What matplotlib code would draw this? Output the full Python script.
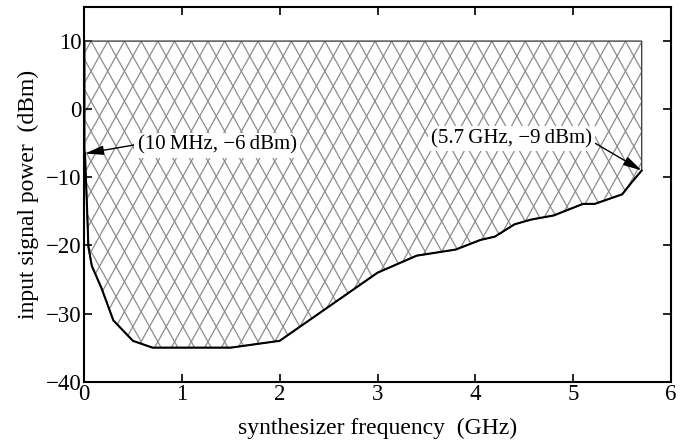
import numpy as np
import matplotlib
matplotlib.use('Agg')
import matplotlib.pyplot as plt
from matplotlib.patches import Polygon

plt.rcParams['font.family'] = ['Liberation Serif', 'DejaVu Serif']

# lower limit of the usable input power vs. synthesizer frequency
freq = [0.01, 0.03, 0.045, 0.08, 0.18, 0.3, 0.5, 0.7, 1.0, 1.5, 2.0, 2.5, 3.0,
        3.4, 3.8, 4.05, 4.2, 4.4, 4.57, 4.8, 5.1, 5.22, 5.5, 5.6, 5.7]
power = [-6.5, -14, -20.2, -23, -26.3, -31, -34, -35, -35, -35, -34, -29, -24,
         -21.5, -20.6, -19.2, -18.7, -16.9, -16.2, -15.6, -13.9, -13.9, -12.5, -10.7, -9]
upper = 10

xticks = [0, 1, 2, 3, 4, 5, 6]
yticks = [-40, -30, -20, -10, 0, 10]

notes = [('(10\u2009MHz, \u22126\u2009dBm)', (0.01, -6.5), (1.36, -5.3), (0, 0.55)),
         ('(5.7\u2009GHz, \u22129\u2009dBm)', (5.7, -9), (4.37, -4.3), (1, 0.35))]

fig = plt.figure(figsize=(6.85, 4.4), dpi=100)
ax = fig.add_axes([0.1226, 0.1325, 0.857, 0.8515])
ax.set_xlim(0, 6)
ax.set_ylim(-40, 15)

# region outline
verts = [(freq[0], upper)] + list(zip(freq, power)) + [(freq[-1], upper)]
region = Polygon(verts, closed=True, facecolor='none', edgecolor='#444444', lw=1.0, zorder=2)
ax.add_patch(region)

# elongated cross hatch, clipped to the region
px_x = ax.bbox.width / 6.0      # pixels per GHz
px_y = ax.bbox.height / 55.0    # pixels per dBm
d = 16.7 / px_x                 # horizontal spacing of hatch lines (GHz)
k = 1.8 * px_x / px_y           # slope in data units
for sgn in (1, -1):
    for c in np.arange(-3, 9, d):
        xs = np.array([-1.0, 7.0])
        ys = upper + sgn * k * (xs - c)
        ln, = ax.plot(xs, ys, color='#8c8c8c', lw=0.9, zorder=1)
        ln.set_clip_path(region)

ax.plot(freq, power, color='black', lw=1.5, zorder=3)

for txt, xy, xyt, rp in notes:
    ax.annotate(txt, xy=xy, xytext=xyt, ha='center', va='center', fontsize=15,
                bbox=dict(boxstyle='square,pad=0.15', fc='white', ec='none'),
                arrowprops=dict(arrowstyle='-|>,head_length=0.8,head_width=0.2',
                                color='black', lw=1.0, mutation_scale=14,
                                shrinkA=0, shrinkB=0, relpos=rp),
                zorder=4)

ax.set_xticks(xticks)
ax.set_yticks(yticks)
ax.set_xticklabels([str(t) for t in xticks])
ax.set_yticklabels([str(t).replace('-', '\u2212') for t in yticks])
ax.tick_params(direction='in', top=True, right=True, length=6, width=1.2,
               labelsize=16.5, pad=2)
for s in ax.spines.values():
    s.set_linewidth(1.5)

ax.set_xlabel('synthesizer frequency  (GHz)', fontsize=17, labelpad=9)
ax.set_ylabel('input signal power  (dBm)', fontsize=17, labelpad=5)

fig.savefig('out.png', dpi=100)
